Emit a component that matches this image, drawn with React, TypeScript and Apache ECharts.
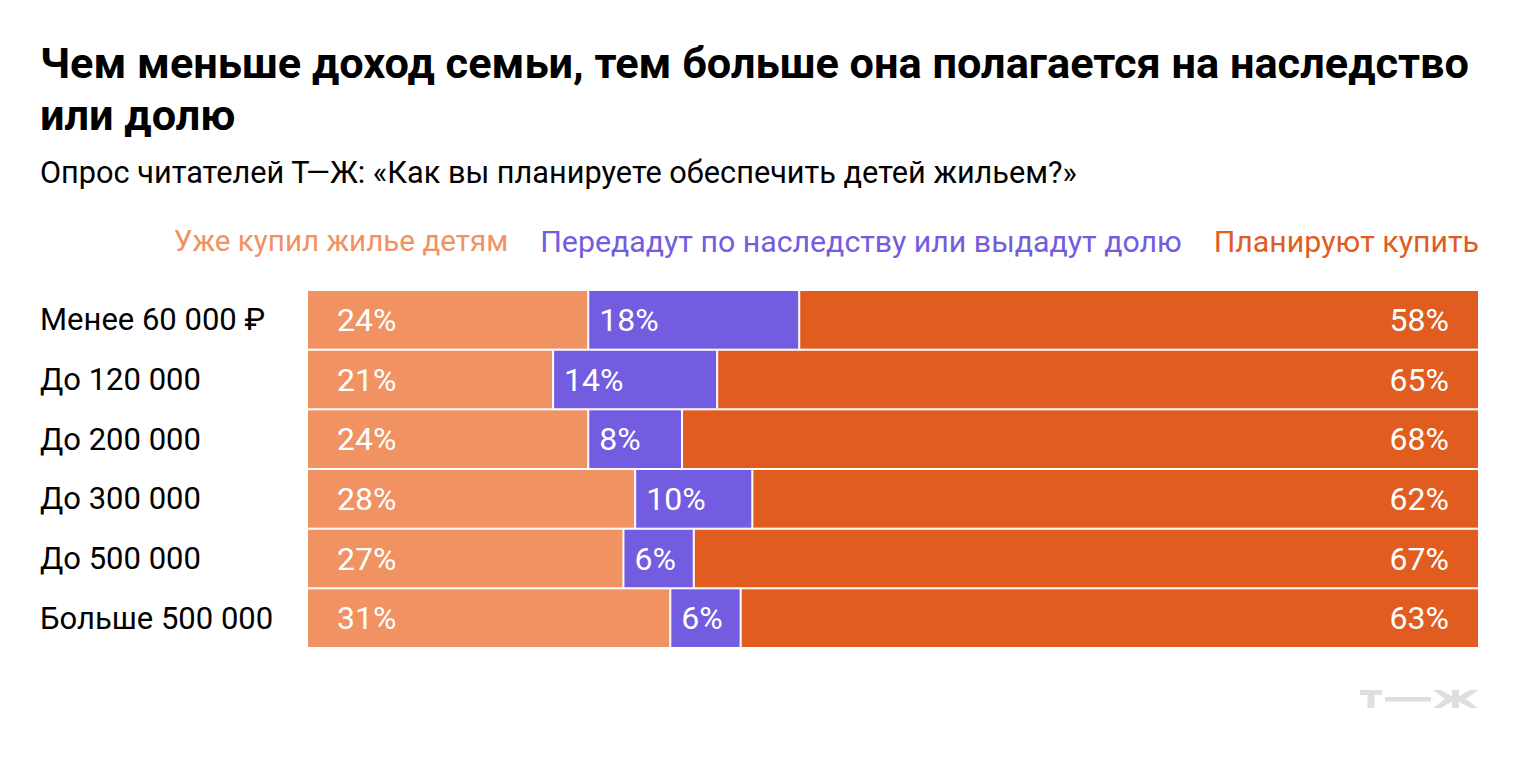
import React, { useEffect, useRef } from "react";
import * as echarts from "echarts";

const categories = ["Менее 60 000 ₽", "До 120 000", "До 200 000", "До 300 000", "До 500 000", "Больше 500 000"];
const seriesNames = ["Уже купил жилье детям", "Передадут по наследству или выдадут долю", "Планируют купить"];
const bought = [24, 21, 24, 28, 27, 31];
const inherit = [18, 14, 8, 10, 6, 6];
const plan = [58, 65, 68, 62, 67, 63];
const colors = ["#F09262", "#735CE0", "#E05C1F"];
const legendSizes = [29.6, 30.3, 30.3];

const FONT = "Roboto";
const LOGO = "#DEDEDE";

export default function App() {
  const ref = useRef<HTMLDivElement>(null);
  useEffect(() => {
    const chart = echarts.init(ref.current!, null, { renderer: "svg" });
    const values = [bought, inherit, plan];
    chart.setOption({
      animation: false,
      backgroundColor: "#fff",
      textStyle: { fontFamily: FONT },
      title: [
        {
          text: "Чем меньше доход семьи, тем больше она полагается на наследство\nили долю",
          left: 40,
          top: 37,
          padding: 0,
          textStyle: { fontFamily: FONT, fontWeight: "bold", fontSize: 43.3, lineHeight: 52, color: "#000" },
        },
        {
          text: "Опрос читателей Т—Ж: «Как вы планируете обеспечить детей жильем?»",
          left: 40,
          top: 157,
          padding: 0,
          textStyle: { fontFamily: FONT, fontWeight: "normal", fontSize: 30.7, lineHeight: 30, color: "#000" },
        },
      ],
      legend: {
        right: 41,
        top: 226,
        padding: 0,
        icon: "none",
        itemWidth: 0,
        itemHeight: 0,
        itemGap: 27,
        selectedMode: false,
        data: seriesNames.map((n, i) => ({
          name: n,
          textStyle: { color: colors[i], fontSize: legendSizes[i], fontFamily: FONT },
        })),
      },
      grid: { left: 307, right: 41, top: 290, bottom: 122 },
      xAxis: { type: "value", min: 0, max: 100, show: false },
      yAxis: {
        type: "category",
        inverse: true,
        data: categories,
        axisLine: { show: false },
        axisTick: { show: false },
        axisLabel: { align: "left", margin: 267, fontSize: 31, color: "#000", fontFamily: FONT },
      },
      series: values.map((v, i) => ({
        name: seriesNames[i],
        type: "bar",
        stack: "total",
        barCategoryGap: 0,
        data: v,
        itemStyle: { color: colors[i], borderColor: "#fff", borderWidth: 1 },
        label: {
          show: true,
          position: i === 2 ? "insideRight" : "insideLeft",
          distance: i === 1 ? 11 : 30,
          formatter: "{c}%",
          color: "#fff",
          fontSize: 32,
          fontFamily: FONT,
        },
      })),
      graphic: [
        { type: "rect", shape: { x: 1360, y: 690, width: 22, height: 5 }, style: { fill: LOGO } },
        { type: "rect", shape: { x: 1367.5, y: 690, width: 7, height: 18 }, style: { fill: LOGO } },
        { type: "rect", shape: { x: 1385, y: 697, width: 46, height: 4.5 }, style: { fill: LOGO } },
        { type: "rect", shape: { x: 1452, y: 690, width: 7, height: 18 }, style: { fill: LOGO } },
        {
          type: "polygon",
          shape: { points: [[1433, 690], [1441, 690], [1453, 697], [1453, 701], [1441, 708], [1433, 708], [1445, 699]] },
          style: { fill: LOGO },
        },
        {
          type: "polygon",
          shape: { points: [[1478, 690], [1470, 690], [1458, 697], [1458, 701], [1470, 708], [1478, 708], [1466, 699]] },
          style: { fill: LOGO },
        },
      ],
    });
    return () => chart.dispose();
  }, []);
  return <div ref={ref} style={{ width: 1520, height: 770, position: "absolute", left: 0, top: 0 }} />;
}
